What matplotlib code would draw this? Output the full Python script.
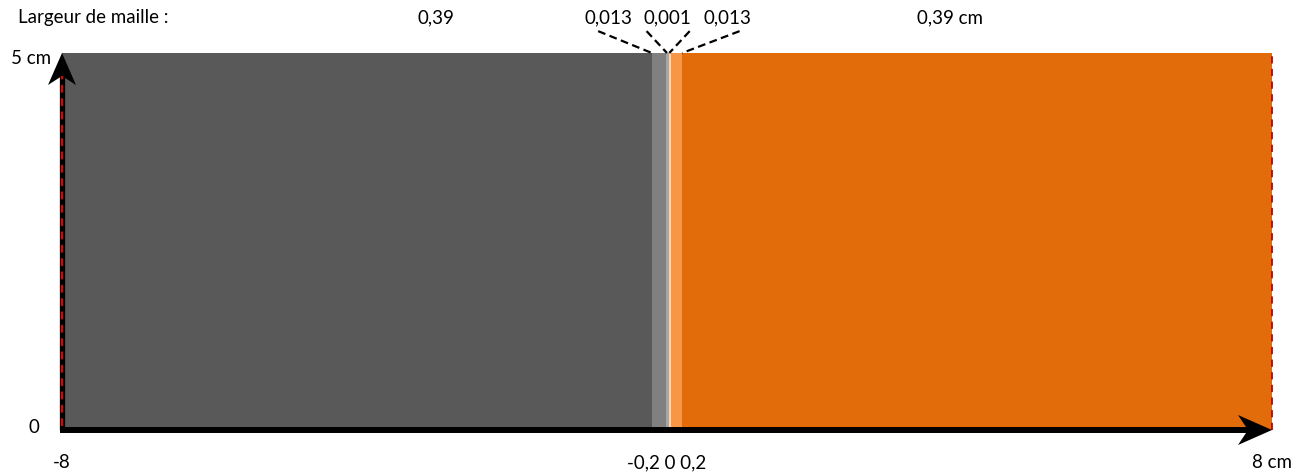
import matplotlib.pyplot as plt

# zone boundaries (cm) and fill colours
bounds = [-8, -0.2, -0.015, 0.02, 0.05, 0.2, 8]
zone_colors = ['#595959', '#808080', '#a6a6a6', '#fbd4b4', '#f79646', '#e36c0a']
height = 5

# mesh width labels along the top
mesh_labels = ['0,39', '0,013', '0,001', '0,013', '0,39 cm']
mesh_label_x = [-3.05, -0.78, 0.0, 0.80, 3.74]
# dashed leader lines: (label end x, boundary x)
leaders = [(-0.91, -0.2), (-0.27, 0.0), (0.30, 0.03), (0.96, 0.2)]

plt.rcParams['font.family'] = ['Lato', 'DejaVu Sans']

fig = plt.figure(figsize=(13.05, 4.73), dpi=100)
ax = fig.add_axes([62 / 1305, 1 - 430 / 473, 1210 / 1305, 377 / 473])
ax.set_xlim(-8, 8)
ax.set_ylim(0, height)
ax.axis('off')

for x0, x1, c in zip(bounds[:-1], bounds[1:], zone_colors):
    ax.axvspan(x0, x1, 0, 1, color=c, lw=0)

# right boundary
ax.plot([8, 8], [0, height], color='#c00000', lw=1.3, ls=(0, (4, 3)), clip_on=False, zorder=3)

# axis lines with stealth heads (head sizes in pixels -> data units)
px_x = 16 / 1210
px_y = height / 377
ax.plot([-8.03, 8 - 20 * px_x], [0, 0], color='black', lw=4.3, solid_capstyle='butt',
        clip_on=False, zorder=5)
ax.fill([8, 8 - 34 * px_x, 8 - 24 * px_x, 8 - 34 * px_x],
        [0, 15 * px_y, 0, -15 * px_y], color='black', lw=0, clip_on=False, zorder=5)
ax.plot([-8, -8], [0, height - 20 * px_y], color='black', lw=3.8, solid_capstyle='butt',
        clip_on=False, zorder=5)
ax.fill([-8, -8 - 14 * px_x, -8, -8 + 14 * px_x],
        [height, height - 32 * px_y, height - 23 * px_y, height - 32 * px_y],
        color='black', lw=0, clip_on=False, zorder=5)
ax.plot([-8, -8], [0.05, height - 0.3], color='#e00000', lw=1.6, ls=(0, (3.5, 2.5)),
        clip_on=False, zorder=6)

# tick texts
fs = 13.5
ax.text(-8.15, height - 0.07, '5 cm', ha='right', va='center', fontsize=fs)
ax.text(-8.3, 0.03, '0', ha='right', va='center', fontsize=fs)
ax.text(-8, -0.43, '-8', ha='center', va='center', fontsize=fs)
ax.text(0, -0.43, '-0,2 0 0,2', ha='center', va='center', fontsize=fs)
ax.text(8, -0.43, '8 cm', ha='center', va='center', fontsize=fs)

# mesh width annotations
ax.text(-8.58, 5.47, 'Largeur de maille :', ha='left', va='center', fontsize=fs)
for lab, x in zip(mesh_labels, mesh_label_x):
    ax.text(x, 5.47, lab, ha='center', va='center', fontsize=fs)
for xa, xb in leaders:
    ax.plot([xa, xb], [5.29, 5.0], color='black', lw=1.6, ls=(0, (3.5, 2)), clip_on=False)

fig.savefig('out.png', dpi=100)
